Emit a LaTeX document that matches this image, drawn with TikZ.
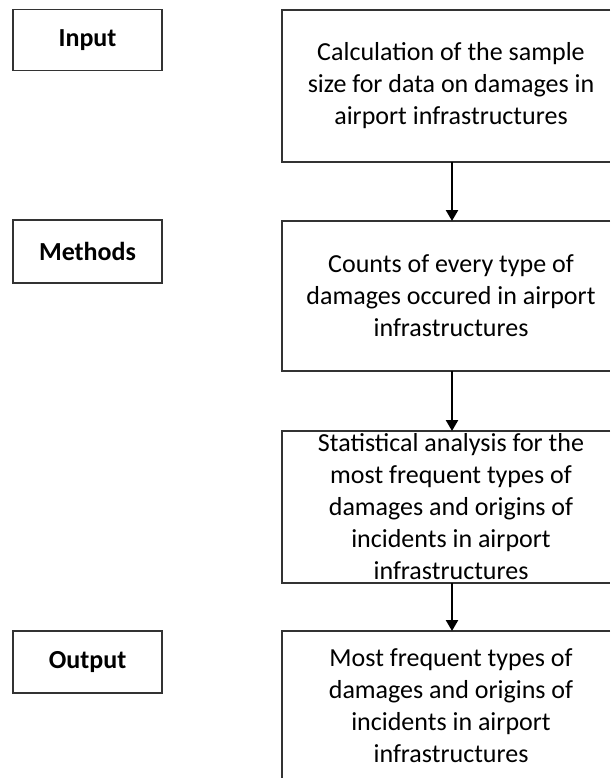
\documentclass[tikz,border=0pt]{standalone}
\usepackage{fontspec}
\setmainfont{Carlito}
\usetikzlibrary{arrows.meta}
\begin{document}
\begin{tikzpicture}[x=1pt,y=-1pt,
  frame/.style={draw=black!80, line width=1.3pt},
  lbl/.style={frame, inner sep=0pt, minimum width=149pt, align=center,
    font=\fontsize{26}{32}\selectfont\bfseries},
  txt/.style={inner sep=0pt, align=center, font=\fontsize{26}{32}\selectfont},
  arr/.style={draw=black, line width=2.4pt, -{Triangle[length=11pt,width=12pt]}}]
\useasboundingbox (0,0) rectangle (610,778);
\fill[white] (0,0) rectangle (610,778);
% left labels
\node[lbl, minimum height=61pt] (in) at (87.5,40) {Input};
\node[lbl, minimum height=63pt] (me) at (87.5,251.5) {Methods};
\node[lbl, minimum height=62pt] (out) at (87.5,662) {Output};
% right boxes (their right sides lie beyond the picture's edge)
\draw[frame] (610,10) -| (282,162) -- (610,162);
\draw[frame] (610,221) -| (282,371) -- (610,371);
\draw[frame] (610,431) -| (282,583) -- (610,583);
\draw[frame] (610,631) -| (282,778);
\node[txt] (b1) at (451,86)
  {Calculation of the sample\\size for data on damages in\\airport infrastructures};
\node[txt] (b2) at (451,296)
  {Counts of every type of\\damages occured in airport\\infrastructures};
\node[txt] (b3) at (451,507)
  {Statistical analysis for the\\most frequent types of\\damages and origins of\\incidents in airport\\infrastructures};
\node[txt] (b4) at (451,706)
  {Most frequent types of\\damages and origins of\\incidents in airport\\infrastructures};
\coordinate (a1) at (452,162);
\coordinate (a2) at (452,221);
\coordinate (a3) at (452,371);
\coordinate (a4) at (452,431);
\coordinate (a5) at (452,583);
\coordinate (a6) at (452,631);
% arrows
\draw[arr] (a1) -- (a2);
\draw[arr] (a3) -- (a4);
\draw[arr] (a5) -- (a6);
\end{tikzpicture}
\end{document}
